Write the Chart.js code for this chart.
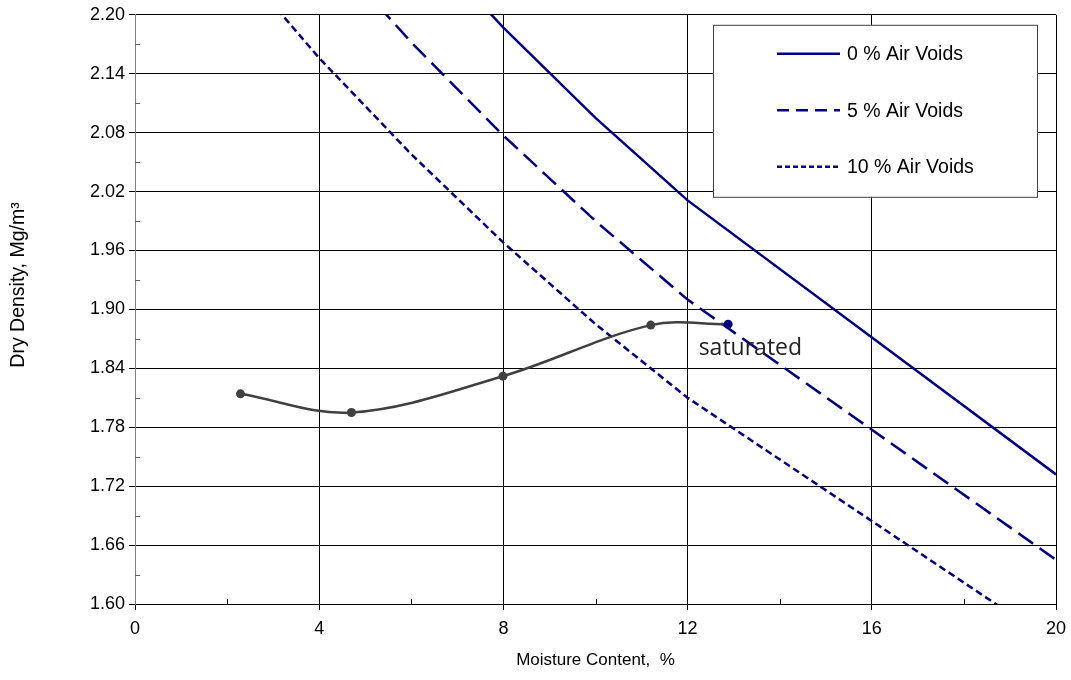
<!DOCTYPE html>
<html>
<head>
<meta charset="utf-8">
<title>Compaction curve</title>
<script src="https://cdn.jsdelivr.net/npm/chart.js@4.4.1/dist/chart.umd.min.js"></script>
<style>
  html, body { margin: 0; padding: 0; background: #fff; }
</style>
</head>
<body>
<canvas id="compactionChart" width="1071" height="680"></canvas>
<script>
// test results (moisture %, dry density Mg/m3)
const moisture = [2.29, 4.70, 7.99, 11.2, 12.88];
const dryDensity = [1.814, 1.795, 1.832, 1.884, 1.885];

// air voids lines: straight segments between these moisture contents
const voidsMoisture = [2, 4, 6, 8, 10, 12, 20];
const voids0 = [2.517, 2.396, 2.287, 2.187, 2.095, 2.011, 1.732];
const voids5 = [2.391, 2.276, 2.172, 2.077, 1.990, 1.910, 1.645];
const voids10 = [2.265, 2.156, 2.058, 1.968, 1.885, 1.810, 1.559];

const xTicks = [0, 4, 8, 12, 16, 20];
const yTicks = [1.60, 1.66, 1.72, 1.78, 1.84, 1.90, 1.96, 2.02, 2.08, 2.14, 2.20];

const satText = 'saturated';
const satAt = [12.24, 1.854];

const NAVY = '#000080';
const GREY = '#404040';
const FONT = '"Liberation Sans", Arial, sans-serif';

function toPoints(xs, ys) {
  return xs.map((x, i) => ({ x: x, y: ys[i] }));
}

// small inward ticks halfway between the labelled ones
const minorTicks = {
  id: 'minorTicks',
  afterDraw(chart) {
    const { ctx, chartArea, scales: { x, y } } = chart;
    ctx.save();
    ctx.lineWidth = 1;
    ctx.strokeStyle = '#606060';
    for (let i = 1; i < yTicks.length; i++) {
      const py = Math.round(y.getPixelForValue((yTicks[i - 1] + yTicks[i]) / 2)) + 0.5;
      ctx.beginPath();
      ctx.moveTo(chartArea.left, py);
      ctx.lineTo(chartArea.left + 5, py);
      ctx.stroke();
    }
    ctx.strokeStyle = '#000';
    for (let i = 1; i < xTicks.length; i++) {
      const px = Math.round(x.getPixelForValue((xTicks[i - 1] + xTicks[i]) / 2)) + 0.5;
      ctx.beginPath();
      ctx.moveTo(px, chartArea.bottom);
      ctx.lineTo(px, chartArea.bottom - 5);
      ctx.stroke();
    }
    ctx.restore();
  }
};

// boxed legend in the top right corner of the plot
const legendBox = {
  id: 'legendBox',
  afterDatasetsDraw(chart) {
    const { ctx, chartArea } = chart;
    const left = chartArea.right - 343;
    const top = chartArea.top + 10;
    const w = 324, h = 172;
    ctx.save();
    ctx.fillStyle = '#fff';
    ctx.fillRect(left, top, w, h);
    ctx.strokeStyle = '#404040';
    ctx.lineWidth = 1;
    ctx.strokeRect(left + 0.5, top + 0.5, w, h);
    const items = chart.data.datasets.filter(d => d.inLegend);
    ctx.font = '19.5px ' + FONT;
    ctx.textBaseline = 'middle';
    ctx.fillStyle = '#000';
    items.forEach((d, i) => {
      const cy = top + 29 + i * 56.5;
      ctx.beginPath();
      ctx.setLineDash(d.legendDash || []);
      ctx.strokeStyle = d.borderColor;
      ctx.lineWidth = 2.5;
      ctx.moveTo(left + 64, cy);
      ctx.lineTo(left + 127, cy);
      ctx.stroke();
      ctx.setLineDash([]);
      ctx.fillText(d.label, left + 134, cy + 1);
    });
    ctx.restore();
  }
};

// "saturated" note and the y axis title
const extraText = {
  id: 'extraText',
  afterDatasetsDraw(chart) {
    const { ctx, scales: { x, y } } = chart;
    ctx.save();
    ctx.font = '23px "Open Sans", "Noto Sans", sans-serif';
    ctx.fillStyle = '#222';
    ctx.textBaseline = 'alphabetic';
    ctx.fillText(satText, x.getPixelForValue(satAt[0]), y.getPixelForValue(satAt[1]));

    ctx.translate(19, 285);
    ctx.rotate(-Math.PI / 2);
    ctx.font = '19.5px ' + FONT;
    ctx.fillStyle = '#000';
    ctx.textAlign = 'center';
    ctx.textBaseline = 'middle';
    ctx.fillText('Dry Density, Mg/m³', 0, 0);
    ctx.restore();
  }
};

const ctx = document.getElementById('compactionChart').getContext('2d');

const chart = new Chart(ctx, {
  type: 'line',
  data: {
    datasets: [
      {
        label: 'Test',
        data: toPoints(moisture, dryDensity),
        borderColor: GREY,
        borderWidth: 2.5,
        tension: 0.35,
        pointRadius: 4.5,
        pointBackgroundColor: [GREY, GREY, GREY, GREY, NAVY],
        pointBorderColor: [GREY, GREY, GREY, GREY, NAVY],
        pointBorderWidth: 0,
      },
      {
        label: '0 % Air Voids',
        inLegend: true,
        data: toPoints(voidsMoisture, voids0),
        borderColor: NAVY,
        borderWidth: 2.5,
        pointRadius: 0,
        tension: 0,
      },
      {
        label: '5 % Air Voids',
        inLegend: true,
        legendDash: [12, 7],
        data: toPoints(voidsMoisture, voids5),
        borderColor: NAVY,
        borderWidth: 2.5,
        borderDash: [18, 8],
        pointRadius: 0,
        tension: 0,
      },
      {
        label: '10 % Air Voids',
        inLegend: true,
        legendDash: [5, 3],
        data: toPoints(voidsMoisture, voids10),
        borderColor: NAVY,
        borderWidth: 2.5,
        borderDash: [7, 4],
        pointRadius: 0,
        tension: 0,
      },
    ],
  },
  options: {
    responsive: false,
    animation: false,
    devicePixelRatio: 1,
    layout: {
      padding: { top: 14, right: 15, left: 0, bottom: 0 },
    },
    plugins: {
      legend: { display: false },
      tooltip: { enabled: false },
    },
    scales: {
      x: {
        type: 'linear',
        min: 0,
        max: 20,
        afterBuildTicks: (scale) => { scale.ticks = xTicks.map(v => ({ value: v })); },
        afterFit: (scale) => {
          scale.height = 76;
          scale.paddingLeft = 0;
          scale.paddingRight = 0;
        },
        grid: { color: '#000', lineWidth: 1, tickLength: 6, tickColor: '#000' },
        border: { display: true, color: '#000', width: 1 },
        ticks: {
          color: '#000',
          font: { family: FONT, size: 18 },
          padding: 8,
          maxRotation: 0,
        },
        title: {
          display: true,
          text: 'Moisture Content,  %',
          color: '#000',
          font: { family: FONT, size: 17 },
          padding: { top: 4, bottom: 9 },
        },
      },
      y: {
        type: 'linear',
        min: 1.6,
        max: 2.2,
        afterBuildTicks: (scale) => { scale.ticks = yTicks.map(v => ({ value: v })); },
        afterFit: (scale) => { scale.width = 135; },
        grid: { color: '#000', lineWidth: 1, tickLength: 6, tickColor: '#000' },
        border: { display: true, color: '#808080', width: 1 },
        ticks: {
          color: '#000',
          font: { family: FONT, size: 18 },
          padding: 4,
          callback: (v) => Number(v).toFixed(2),
        },
      },
    },
  },
  plugins: [minorTicks, legendBox, extraText],
});
</script>
</body>
</html>
